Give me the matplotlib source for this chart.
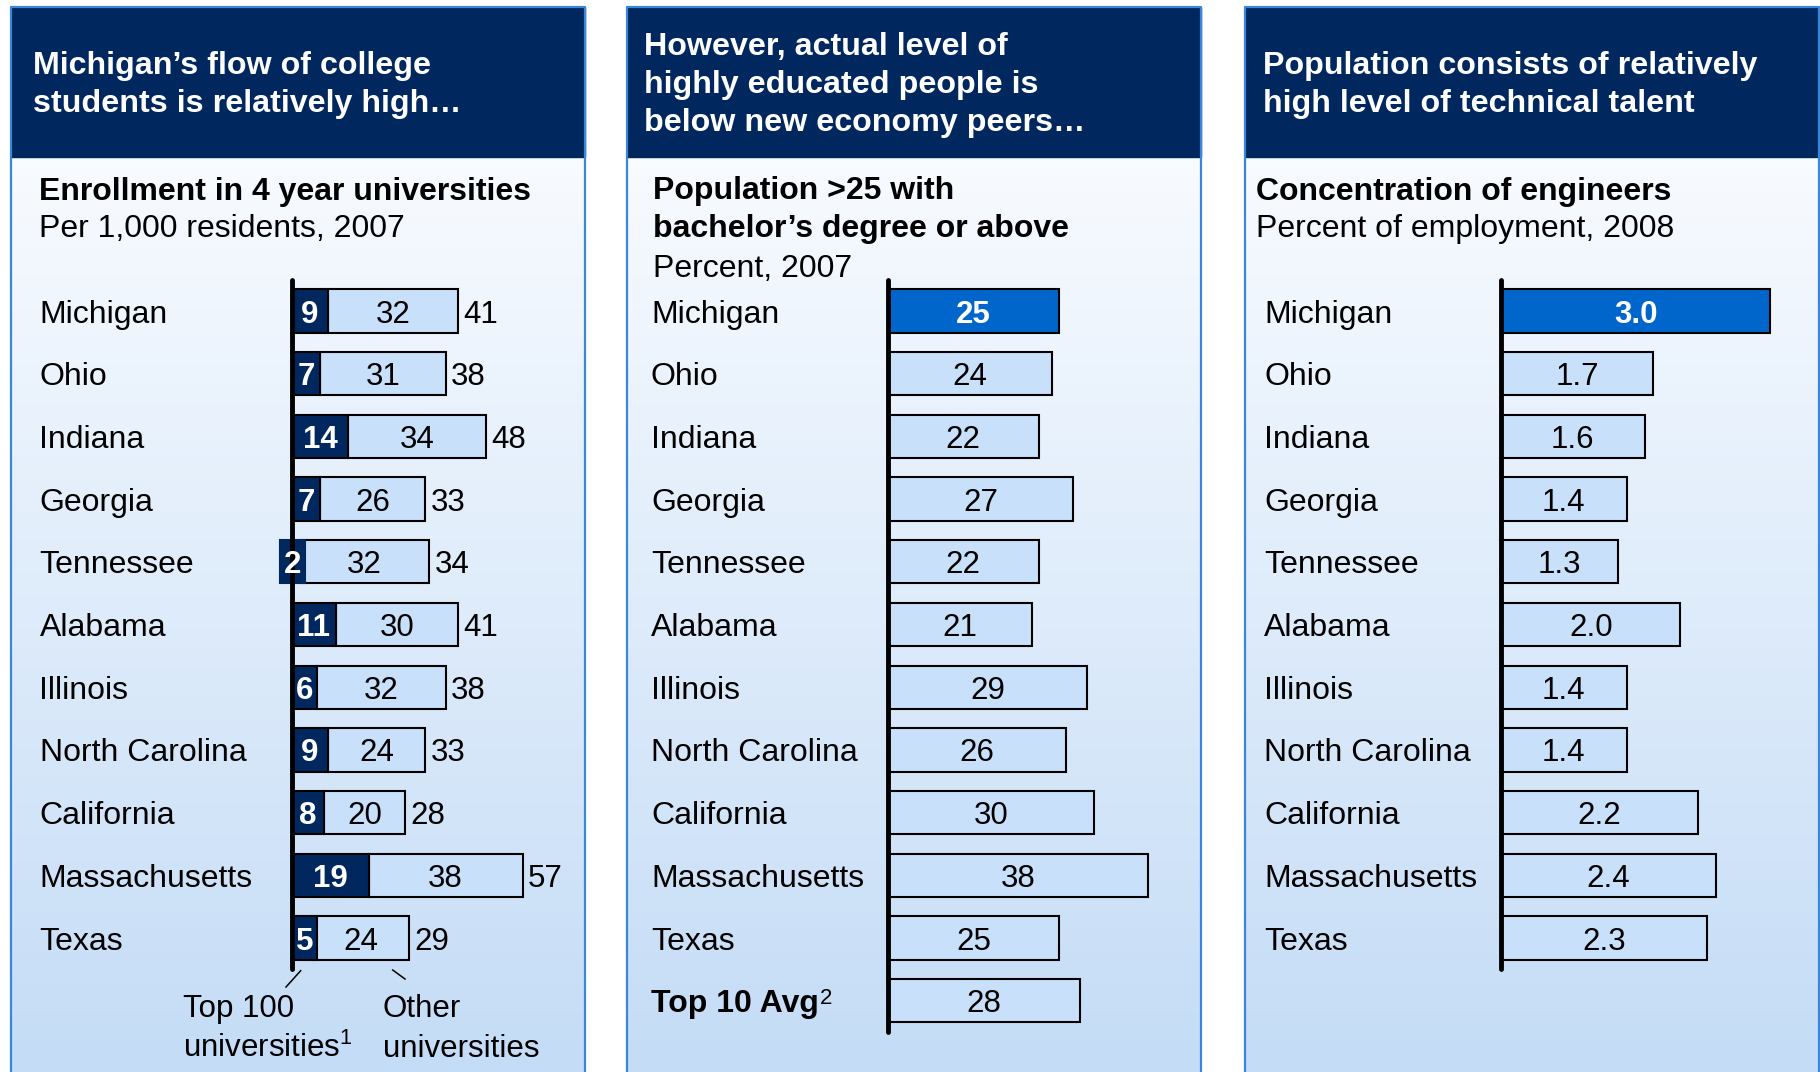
import matplotlib.pyplot as plt
import numpy as np
from matplotlib.colors import LinearSegmentedColormap
from matplotlib.patches import Rectangle
from matplotlib.transforms import blended_transform_factory

plt.rcParams['font.family'] = ['Liberation Sans', 'DejaVu Sans']
plt.rcParams['mathtext.fontset'] = 'custom'
plt.rcParams['mathtext.rm'] = 'Liberation Sans'
plt.rcParams['mathtext.default'] = 'regular'

# data
states = ['Michigan', 'Ohio', 'Indiana', 'Georgia', 'Tennessee', 'Alabama', 'Illinois',
          'North Carolina', 'California', 'Massachusetts', 'Texas']
top100 = [9, 7, 14, 7, 2, 11, 6, 9, 8, 19, 5]
other = [32, 31, 34, 26, 32, 30, 32, 24, 20, 38, 24]
bachelor = [25, 24, 22, 27, 22, 21, 29, 26, 30, 38, 25]
top10_label = 'Top 10 Avg'
top10_avg = 28
engineers = [3.0, 1.7, 1.6, 1.4, 1.3, 2.0, 1.4, 1.4, 2.2, 2.4, 2.3]

headers = [['Michigan\u2019s flow of college', 'students is relatively high\u2026'],
           ['However, actual level of', 'highly educated people is', 'below new economy peers\u2026'],
           ['Population consists of relatively', 'high level of technical talent']]
subtitles = [(['Enrollment in 4 year universities'], 'Per 1,000 residents, 2007'),
             (['Population >25 with', 'bachelor\u2019s degree or above'], 'Percent, 2007'),
             (['Concentration of engineers'], 'Percent of employment, 2008')]

NAVY = '#00285E'
LIGHT = '#C8E0FA'
HIGH = '#0066CC'
BORDER = '#3A86DC'

W, H = 1820, 1072
Y0, ROW = 279.65, 62.7
BH = 0.69
FS_CAT = 23
FS_NUM = 22.5

fig = plt.figure(figsize=(18.2, 10.72), dpi=100)
bg = fig.add_axes([0, 0, 1, 1])
bg.set_xlim(0, W)
bg.set_ylim(H, 0)
bg.axis('off')

grad = LinearSegmentedColormap.from_list('g', ['#F8FBFF', '#C4DCF6'])
panels = [(11, 585), (627, 1201), (1245, 1819)]
head_x = [33, 644, 1263]
head_y = [[74, 112], [55, 93, 131], [74, 112]]
sub_x = [39, 653, 1256]
sub_y = [[200, 237], [199, 237, 277], [200, 237]]

for k, (x0, x1) in enumerate(panels):
    bg.imshow(np.linspace(0, 1, 256).reshape(-1, 1), cmap=grad, aspect='auto',
              extent=(x0, x1, H, 157), origin='upper', zorder=0)
    bg.add_patch(Rectangle((x0, 7), x1 - x0, 150, color=NAVY, zorder=1))
    bg.plot([x0, x0, x1, x1], [H, 7, 7, H], color=BORDER, lw=1.6, zorder=2)
    for line, y in zip(headers[k], head_y[k]):
        bg.text(head_x[k], y, line, color='white', fontsize=23.2, fontweight='bold', va='baseline')
    bold_lines, reg = subtitles[k]
    for line, y in zip(bold_lines, sub_y[k]):
        bg.text(sub_x[k], y, line, fontsize=23, fontweight='bold', va='baseline')
    bg.text(sub_x[k], sub_y[k][len(bold_lines)], reg, fontsize=23, va='baseline')
bg.set_xlim(0, W)
bg.set_ylim(H, 0)


def bar_axes(x0, x1, axis_px, scale):
    ax = fig.add_axes([x0 / W, 1 - (Y0 + 12 * ROW) / H, (x1 - x0) / W, 12 * ROW / H])
    ax.set_xlim((x0 - axis_px) / scale, (x1 - axis_px) / scale)
    ax.set_ylim(11.5, -0.5)
    ax.axis('off')
    ax.patch.set_visible(False)
    return ax


def cat_labels(ax, x_px, labels):
    tr = blended_transform_factory(bg.transData, ax.transData)
    for i, lab in enumerate(labels):
        ax.text(x_px, i, lab, transform=tr, fontsize=FS_CAT, va='center_baseline', ha='left')


def num(ax, x, i, s, **kw):
    ax.text(x, i, s, fontsize=FS_NUM, ha='center', va='center_baseline', zorder=5, **kw)


# panel 1: enrollment
ax1 = bar_axes(11, 585, 291.7, 4.05)
for i, (d, o) in enumerate(zip(top100, other)):
    ax1.barh(i, o, left=d, height=BH, color=LIGHT, edgecolor='black', lw=1.5, zorder=2)
    dl = min(0, d - 4.9)
    dw = max(d, 6.3)
    ax1.barh(i, dw, left=dl, height=BH, color=NAVY, edgecolor=NAVY if d < 5 else 'black',
             lw=1.5, zorder=3)
    num(ax1, dl + dw / 2, i, str(d), color='white', fontweight='bold')
    num(ax1, d + o / 2, i, str(o))
    ax1.annotate(str(d + o), xy=(d + o, i), xytext=(4, 0), textcoords='offset points',
                 fontsize=FS_NUM, ha='left', va='center_baseline')
ax1.plot([0, 0], [-0.5, 10.5], color='black', lw=3.5, solid_capstyle='round',
         zorder=4, clip_on=False)
cat_labels(ax1, 39.5, states)

bg.plot([300.7, 286], [970.7, 987], color='black', lw=1.1)
bg.plot([392.7, 405], [970, 979], color='black', lw=1.1)
bg.text(183, 1017, 'Top 100', fontsize=22.5, va='baseline')
bg.text(183, 1057, 'universities$^1$', fontsize=22.5, va='baseline')
bg.text(383, 1017, 'Other', fontsize=22.5, va='baseline')
bg.text(383, 1057, 'universities', fontsize=22.5, va='baseline')

# panel 2: bachelor's degree
ax2 = bar_axes(627, 1201, 888, 6.85)
vals2 = bachelor + [top10_avg]
for i, v in enumerate(vals2):
    hi = i == 0
    ax2.barh(i, v, height=BH, color=HIGH if hi else LIGHT, edgecolor='black', lw=1.5, zorder=2)
    num(ax2, v / 2, i, str(v), color='white' if hi else 'black',
        fontweight='bold' if hi else 'normal')
ax2.plot([0, 0], [-0.5, 11.5], color='black', lw=3.5, solid_capstyle='round',
         zorder=4, clip_on=False)
cat_labels(ax2, 651, states)
tr2 = blended_transform_factory(bg.transData, ax2.transData)
t = ax2.text(651, len(states), top10_label, transform=tr2, fontsize=FS_CAT,
             fontweight='bold', va='center_baseline', ha='left')
ax2.annotate('2', xy=(1, 1), xycoords=t, xytext=(1, 1), textcoords='offset points',
             fontsize=16, ha='left', va='top')

# panel 3: engineers
ax3 = bar_axes(1245, 1819, 1501, 89.7)
for i, v in enumerate(engineers):
    hi = i == 0
    ax3.barh(i, v, height=BH, color=HIGH if hi else LIGHT, edgecolor='black', lw=1.5, zorder=2)
    num(ax3, v / 2, i, f'{v:.1f}', color='white' if hi else 'black',
        fontweight='bold' if hi else 'normal')
ax3.plot([0, 0], [-0.5, 10.5], color='black', lw=3.5, solid_capstyle='round',
         zorder=4, clip_on=False)
cat_labels(ax3, 1264, states)

fig.savefig('out.png', dpi=100)
